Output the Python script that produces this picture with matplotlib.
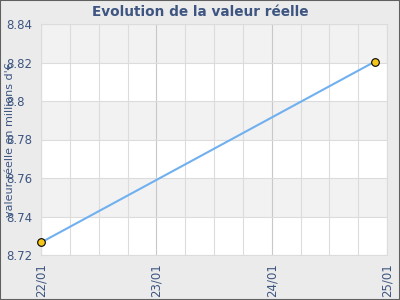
import matplotlib
matplotlib.use("Agg")
import matplotlib.pyplot as plt
import matplotlib.dates as mdates
from matplotlib.patches import Rectangle
import pandas as pd

dates = pd.to_datetime(["2024-01-22 00:00", "2024-01-24 21:30"])
values = [8.7265, 8.8205]
yticks = [8.72, 8.74, 8.76, 8.78, 8.80, 8.82, 8.84]
ytick_labels = ["8.72", "8.74", "8.76", "8.78", "8.8", "8.82", "8.84"]
xtick_dates = pd.to_datetime(["2024-01-22", "2024-01-23", "2024-01-24", "2024-01-25"])
xtick_labels = ["22/01", "23/01", "24/01", "25/01"]
title = "Evolution de la valeur réelle"
ylabel = "valeur réelle en millions d'€"

txt = "#3d5580"
fig = plt.figure(figsize=(4, 3), dpi=100, facecolor="#ebebeb")
ax = fig.add_axes([41/400, 1-255/300, 346/400, 231/300])
ax.set_facecolor("white")

ax.set_xlim(xtick_dates[0], xtick_dates[-1])
ax.set_ylim(yticks[0], yticks[-1])

# alternating bands
for i in range(len(yticks) - 1):
    if (len(yticks) - 2 - i) % 2 == 0:
        ax.axhspan(yticks[i], yticks[i+1], color="#f2f2f2", zorder=0, lw=0)

# minor grid every 6 hours
ax.xaxis.set_minor_locator(mdates.HourLocator(byhour=[0, 6, 12, 18]))
ax.grid(True, which="minor", axis="x", color="#dcdcdc", lw=0.8, zorder=1)
ax.set_xticks(xtick_dates)
ax.set_xticklabels(xtick_labels, rotation=90)
ax.grid(True, which="major", axis="x", color="#c8c8c8", lw=0.8, zorder=1)
ax.set_yticks(yticks)
ax.set_yticklabels(ytick_labels, ha="left")
ax.grid(True, which="major", axis="y", color="#dcdcdc", lw=0.8, zorder=1)
ax.set_axisbelow(True)

ax.plot(dates, values, color="#70b0f0", lw=1.5, zorder=3)
ax.plot(dates, values, ls="none", marker="o", ms=5.5, mfc="#f5c518",
        mec="black", mew=0.8, zorder=4, clip_on=False)

for s in ax.spines.values():
    s.set_color("#dcdcdc")
    s.set_linewidth(0.8)
ax.tick_params(axis="both", which="both", length=0, colors=txt, labelsize=8.5)
ax.tick_params(axis="y", pad=25)
ax.tick_params(axis="x", pad=6)

fig.text(0.5, 0.96, title, ha="center", va="center", fontsize=9.8,
         fontweight="bold", color=txt)
fig.text(10/400, 0.533, ylabel, ha="center", va="center", rotation=90,
         fontsize=8, color=txt)

fig.patches.append(Rectangle((0, 0), 1, 1, transform=fig.transFigure,
                             fill=False, ec="#606060", lw=1.5))
fig.savefig("out.png", dpi=100, facecolor=fig.get_facecolor())
